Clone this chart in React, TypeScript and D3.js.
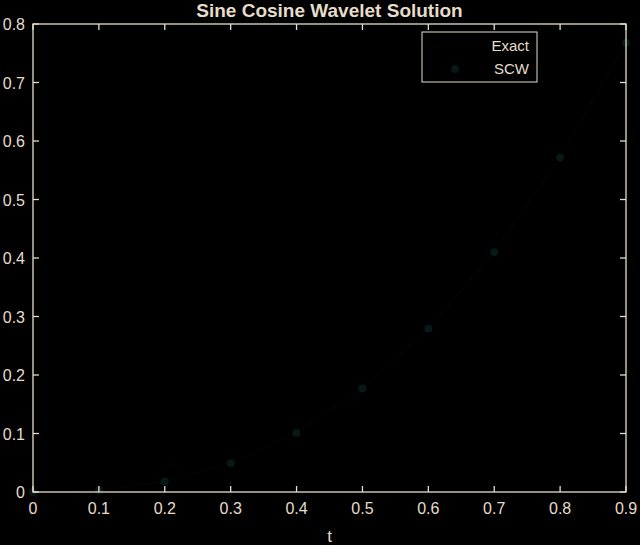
import { useRef, useEffect } from 'react';
import * as d3 from 'd3';

const tValues = [0, 0.1, 0.2, 0.3, 0.4, 0.5, 0.6, 0.7, 0.8, 0.9];
const exactValues = [0, 0.003, 0.018, 0.049, 0.101, 0.177, 0.279, 0.41, 0.572, 0.768];
const scwValues = [0, 0.003, 0.018, 0.049, 0.101, 0.177, 0.279, 0.41, 0.572, 0.768];
const xTicks = [0, 0.1, 0.2, 0.3, 0.4, 0.5, 0.6, 0.7, 0.8, 0.9];
const yTicks = [0, 0.1, 0.2, 0.3, 0.4, 0.5, 0.6, 0.7, 0.8];
const legendLabels = ['Exact', 'SCW'];

export default function App() {
  const ref = useRef<SVGSVGElement>(null);

  useEffect(() => {
    if (!ref.current) return;
    document.body.style.margin = '0';
    document.body.style.background = '#000';

    const width = 640;
    const height = 545;
    const margin = { top: 24, right: 14, bottom: 53, left: 33 };
    const axisColor = '#e6dccb';
    const font = 'Liberation Sans, Arial, sans-serif';
    const markerFill = '#081816';

    const svg = d3.select(ref.current);
    svg.selectAll('*').remove();
    svg.attr('width', width).attr('height', height);

    svg.append('rect').attr('width', width).attr('height', height).attr('fill', '#000');

    const x = d3.scaleLinear().domain([0, 0.9]).range([margin.left, width - margin.right]);
    const y = d3.scaleLinear().domain([0, 0.8]).range([height - margin.bottom, margin.top]);

    const data = tValues.map((t, i) => ({ t, exact: exactValues[i], scw: scwValues[i] }));

    // exact curve (almost black on black)
    const line = d3
      .line<{ t: number; exact: number }>()
      .x((d) => x(d.t))
      .y((d) => y(d.exact));
    svg
      .append('path')
      .datum(data)
      .attr('d', line)
      .attr('fill', 'none')
      .attr('stroke', '#040503')
      .attr('stroke-width', 1.5);

    // SCW markers (very dark teal)
    svg
      .append('g')
      .selectAll('circle')
      .data(data)
      .join('circle')
      .attr('cx', (d) => x(d.t))
      .attr('cy', (d) => y(d.scw))
      .attr('r', 4)
      .attr('fill', markerFill);

    // axes box with inward ticks
    const g = svg.append('g').attr('stroke', axisColor).attr('stroke-width', 1.3);
    const x0 = x.range()[0];
    const x1 = x.range()[1];
    const y0 = y.range()[0];
    const y1 = y.range()[1];
    g.append('rect')
      .attr('x', x0)
      .attr('y', y1)
      .attr('width', x1 - x0)
      .attr('height', y0 - y1)
      .attr('fill', 'none');

    const tl = 6;
    xTicks.forEach((t) => {
      g.append('line').attr('x1', x(t)).attr('x2', x(t)).attr('y1', y0).attr('y2', y0 - tl);
      g.append('line').attr('x1', x(t)).attr('x2', x(t)).attr('y1', y1).attr('y2', y1 + tl);
    });
    yTicks.forEach((v) => {
      g.append('line').attr('x1', x0).attr('x2', x0 + tl).attr('y1', y(v)).attr('y2', y(v));
      g.append('line').attr('x1', x1).attr('x2', x1 - tl).attr('y1', y(v)).attr('y2', y(v));
    });

    svg
      .append('g')
      .selectAll('text')
      .data(xTicks)
      .join('text')
      .attr('x', (d) => x(d))
      .attr('y', y0 + 22)
      .attr('text-anchor', 'middle')
      .attr('fill', axisColor)
      .attr('font-family', font)
      .attr('font-size', 16)
      .text((d) => d3.format('')(d));

    svg
      .append('g')
      .selectAll('text')
      .data(yTicks)
      .join('text')
      .attr('x', x0 - 8)
      .attr('y', (d) => y(d) + 6)
      .attr('text-anchor', 'end')
      .attr('fill', axisColor)
      .attr('font-family', font)
      .attr('font-size', 16)
      .text((d) => d3.format('')(d));

    svg
      .append('text')
      .attr('x', (x0 + x1) / 2)
      .attr('y', 542)
      .attr('text-anchor', 'middle')
      .attr('fill', axisColor)
      .attr('font-family', font)
      .attr('font-size', 17)
      .text('t');

    svg
      .append('text')
      .attr('x', (x0 + x1) / 2)
      .attr('y', 17)
      .attr('text-anchor', 'middle')
      .attr('fill', axisColor)
      .attr('font-family', font)
      .attr('font-weight', 'bold')
      .attr('font-size', 19)
      .text('Sine Cosine Wavelet Solution');

    // legend
    const lg = svg.append('g');
    lg.append('rect')
      .attr('x', 422)
      .attr('y', 32)
      .attr('width', 115)
      .attr('height', 50)
      .attr('fill', '#000')
      .attr('stroke', axisColor)
      .attr('stroke-width', 1);
    legendLabels.forEach((label, i) => {
      const ly = 46 + i * 23;
      if (i === 0) {
        lg.append('line')
          .attr('x1', 436)
          .attr('x2', 474)
          .attr('y1', ly)
          .attr('y2', ly)
          .attr('stroke', '#040503')
          .attr('stroke-width', 1.5);
      } else {
        lg.append('circle').attr('cx', 455).attr('cy', ly).attr('r', 4).attr('fill', markerFill);
      }
      lg.append('text')
        .attr('x', 529)
        .attr('y', ly + 5)
        .attr('text-anchor', 'end')
        .attr('fill', axisColor)
        .attr('font-family', font)
        .attr('font-size', 15)
        .text(label);
    });
  }, []);

  return (
    <div style={{ position: 'absolute', left: 0, top: 0, background: '#000' }}>
      <svg ref={ref} style={{ display: 'block' }}></svg>
    </div>
  );
}
